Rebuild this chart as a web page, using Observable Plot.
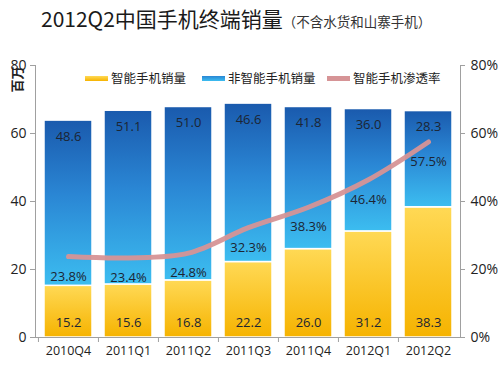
<!DOCTYPE html>
<html><head><meta charset="utf-8">
<script src="https://cdn.jsdelivr.net/npm/d3@7"></script>
<script src="https://cdn.jsdelivr.net/npm/@observablehq/plot@0.6"></script>
<style>
body{margin:0;background:#fff;font-family:"Noto Sans CJK SC","Open Sans",sans-serif;}
#wrap{position:relative;width:500px;height:366px;overflow:hidden;}
#title{position:absolute;left:41px;top:3px;font-size:21px;color:#1a1a1a;white-space:nowrap;line-height:30px;}
#title span{font-size:13.5px;color:#333;}
#chart{position:absolute;left:0;top:50px;}
#legend{position:absolute;top:69px;left:0;width:500px;height:18px;font-size:12.5px;color:#222;}
.li{position:absolute;top:0;line-height:18px;white-space:nowrap;}
.sw{display:inline-block;width:23px;height:5px;vertical-align:middle;margin-right:3px;position:relative;top:-1px;}
</style></head>
<body>
<div id="wrap">
  <div id="title">2012Q2中国手机终端销量<span>（不含水货和山寨手机）</span></div>
  <div id="chart"></div>
  <div id="legend"></div>
</div>
<script>
const quarters = ["2010Q4","2011Q1","2011Q2","2011Q3","2011Q4","2012Q1","2012Q2"];
const smartSales = [15.2,15.6,16.8,22.2,26.0,31.2,38.3];
const nonSmartSales = [48.6,51.1,51.0,46.6,41.8,36.0,28.3];
const penetration = [23.8,23.4,24.8,32.3,38.3,46.4,57.5];
const yTicks = [0,20,40,60,80];
const seriesNames = ["智能手机销量","非智能手机销量","智能手机渗透率"];

const rows = quarters.map((q,i)=>({q, smart:smartSales[i], non:nonSmartSales[i], pen:penetration[i]}));

const W = 500, H = 316, mL = 35, mR = 40, mT = 15, mB = 29;
const pIn = 0.2, pOut = 0.135;
const step = (W - mL - mR) / (quarters.length - pIn + 2 * pOut);
const txt = "#1c2533";
const axisColor = "#a0a0a0";

const svg = Plot.plot({
  width: W, height: H,
  marginLeft: mL, marginRight: mR, marginTop: mT, marginBottom: mB,
  style: {fontFamily: "'Open Sans','Noto Sans CJK SC',sans-serif", fontSize: "13px", color: txt, background: "#fff"},
  x: {domain: quarters, paddingInner: pIn, paddingOuter: pOut, label: null},
  y: {domain: [0, 80], label: null},
  marks: [
    Plot.barY(rows, {x: "q", y1: 0, y2: "smart", fill: "url(#gY)", stroke: "white", strokeWidth: 1.5}),
    Plot.barY(rows, {x: "q", y1: "smart", y2: d => d.smart + d.non, fill: "url(#gB)", stroke: "white", strokeWidth: 1.5}),
    Plot.line(rows, {x: "q", y: "pen", stroke: "#d69496", strokeWidth: 5, curve: "catmull-rom", strokeOpacity: 0.95}),
    Plot.text(rows, {x: "q", y: 0, text: d => d.smart.toFixed(1), dy: -15, fill: txt, fontSize: 13}),
    Plot.text(rows, {x: "q", y: d => d.smart + d.non, text: d => d.non.toFixed(1), dy: 16, fill: txt, fontSize: 13}),
    Plot.text(rows, {x: "q", y: "pen", text: d => d.pen.toFixed(1) + "%", dy: 20, fill: txt, fontSize: 13}),
    Plot.ruleY([0], {stroke: axisColor}),
    Plot.frame({anchor: "left", stroke: axisColor}),
    Plot.frame({anchor: "right", stroke: axisColor}),
    Plot.axisY({anchor: "left", ticks: yTicks, tickSize: 5, tickPadding: 4, fontSize: 14, stroke: axisColor, fill: "#222", label: null}),
    Plot.axisY({anchor: "right", ticks: yTicks, tickSize: 4, tickPadding: 6, tickFormat: d => d + "%", fontSize: 14, stroke: axisColor, fill: "#222", label: null}),
    Plot.axisX({tickSize: 0, tickPadding: 9, fontSize: 12.5, fill: "#222", label: null}),
    Plot.axisX({tickSize: 5, dx: -step / 2, tickFormat: () => "", stroke: axisColor, label: null}),
    Plot.text(["百万"], {frameAnchor: "top-left", dx: -23, dy: 27, rotate: -90, fontSize: 13, fontWeight: "bold", fill: "#222"})
  ]
});

const defs = d3.select(svg).insert("defs", ":first-child");
const gB = defs.append("linearGradient").attr("id", "gB").attr("x1", 0).attr("y1", 0).attr("x2", 0).attr("y2", 1);
gB.append("stop").attr("offset", "0%").attr("stop-color", "#1a5aad");
gB.append("stop").attr("offset", "45%").attr("stop-color", "#2a86d4");
gB.append("stop").attr("offset", "100%").attr("stop-color", "#3cbdf0");
const gY = defs.append("linearGradient").attr("id", "gY").attr("x1", 0).attr("y1", 0).attr("x2", 0).attr("y2", 1);
gY.append("stop").attr("offset", "0%").attr("stop-color", "#ffd955");
gY.append("stop").attr("offset", "100%").attr("stop-color", "#f6b300");

document.getElementById("chart").appendChild(svg);

const legend = document.getElementById("legend");
const legendItems = [
  {name: seriesNames[0], left: 85, bg: "linear-gradient(#ffd955,#f6b300)"},
  {name: seriesNames[1], left: 202, bg: "linear-gradient(#2a86d4,#3cbdf0)"},
  {name: seriesNames[2], left: 327, bg: "#d69496"}
];
legendItems.forEach(it => {
  const d = document.createElement("div");
  d.className = "li";
  d.style.left = it.left + "px";
  d.innerHTML = `<span class="sw" style="background:${it.bg}"></span>${it.name}`;
  legend.appendChild(d);
});
</script>
</body></html>
